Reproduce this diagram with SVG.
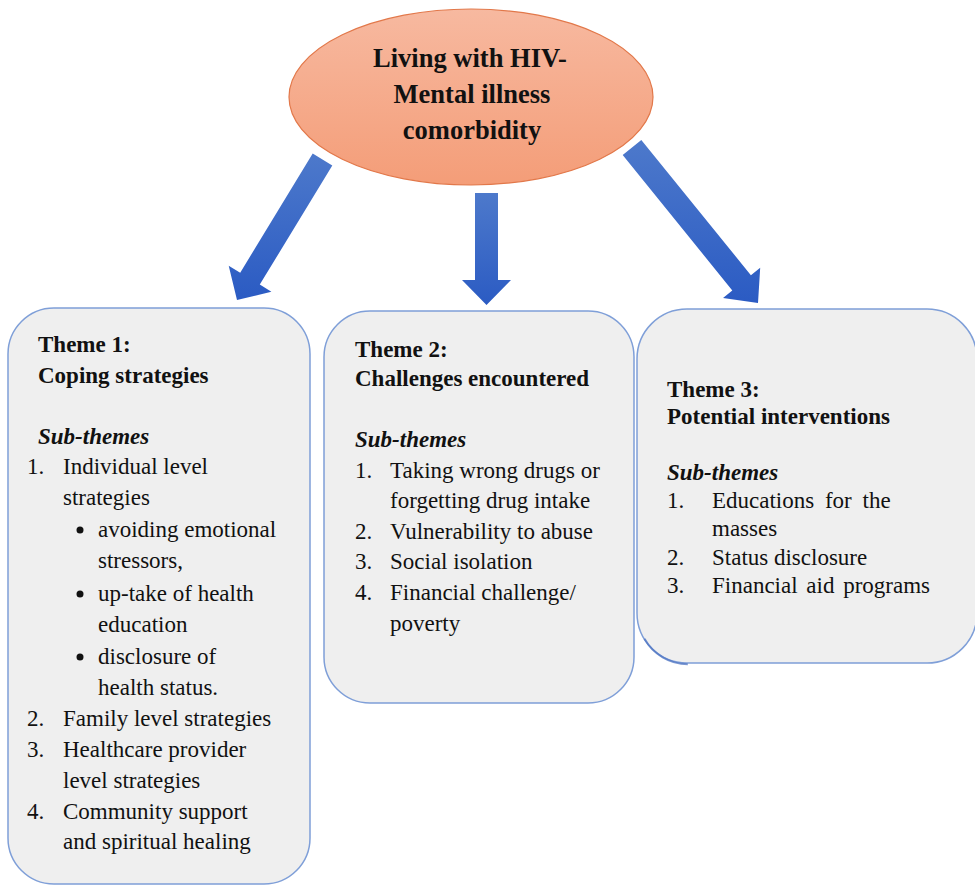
<svg xmlns="http://www.w3.org/2000/svg" width="975" height="886" viewBox="0 0 975 886">
<defs>
<linearGradient id="ellGrad" x1="0" y1="0" x2="0" y2="1">
<stop offset="0" stop-color="#f7b9a0"/>
<stop offset="1" stop-color="#f49d78"/>
</linearGradient>
<linearGradient id="arrGrad" x1="0" y1="0" x2="0" y2="1">
<stop offset="0" stop-color="#4d79cb"/>
<stop offset="1" stop-color="#2b5bc3"/>
</linearGradient>
<style>
.box{fill:#efefef;stroke:#7f9fd8;stroke-width:1.5}
.arrow{fill:url(#arrGrad);stroke:none}
text{font-family:"Liberation Serif","Times New Roman",serif;fill:#111;font-size:23px}
.b{font-weight:bold}
.bi{font-weight:bold;font-style:italic}
.title{font-weight:bold;font-size:26.5px;text-anchor:middle}
.dot{fill:#111}
</style>
</defs>
<rect width="975" height="886" fill="#ffffff"/>

<g id="connectors">
<polygon class="arrow" points="312.7,153.5 332.3,165.5 259.8,284.6 271.4,291.7 237,300 228.7,265.7 240.2,272.7"/>
<polygon class="arrow" points="475,193 498,193 498,280 511,280 486.5,305 462,280 475,280"/>
<polygon class="arrow" points="622.7,155.1 641.3,139.9 750.9,275.2 760.2,267.7 758,303 723,297.9 732.3,290.4"/>
</g>

<g id="center">
<ellipse cx="471" cy="97" rx="182" ry="88" fill="url(#ellGrad)" stroke="#e2784a" stroke-width="1.2"/>
<text class="title" x="470" y="67">Living with HIV-</text>
<text class="title" x="472" y="103">Mental illness</text>
<text class="title" x="472" y="139">comorbidity</text>
</g>

<g id="theme1">
<rect class="box" x="8" y="308" width="302" height="576" rx="46" ry="46"/>
<text class="b" x="38" y="352">Theme 1:</text>
<text class="b" x="38" y="383">Coping strategies</text>
<text class="bi" x="38" y="444">Sub-themes</text>
<text x="27" y="474">1.</text><text x="63" y="474">Individual level</text>
<text x="63" y="505">strategies</text>
<circle class="dot" cx="80" cy="530" r="3.5"/><text x="98" y="537">avoiding emotional</text>
<text x="98" y="568">stressors,</text>
<circle class="dot" cx="80" cy="594" r="3.5"/><text x="98" y="601">up-take of health</text>
<text x="98" y="632">education</text>
<circle class="dot" cx="80" cy="657" r="3.5"/><text x="98" y="664">disclosure of</text>
<text x="98" y="695">health status.</text>
<text x="27" y="726">2.</text><text x="63" y="726">Family level strategies</text>
<text x="27" y="757">3.</text><text x="63" y="757">Healthcare provider</text>
<text x="63" y="788">level strategies</text>
<text x="27" y="819">4.</text><text x="63" y="819">Community support</text>
<text x="63" y="849">and spiritual healing</text>
</g>

<g id="theme2">
<rect class="box" x="324" y="311" width="310" height="392" rx="46" ry="46"/>
<text class="b" x="355" y="357">Theme 2:</text>
<text class="b" x="355" y="386">Challenges encountered</text>
<text class="bi" x="355" y="447">Sub-themes</text>
<text x="355" y="478">1.</text><text x="390" y="478">Taking wrong drugs or</text>
<text x="390" y="508">forgetting drug intake</text>
<text x="355" y="539">2.</text><text x="390" y="539">Vulnerability to abuse</text>
<text x="355" y="569">3.</text><text x="390" y="569">Social isolation</text>
<text x="355" y="600">4.</text><text x="390" y="600">Financial challenge/</text>
<text x="390" y="631">poverty</text>
</g>

<g id="theme3">
<rect class="box" x="637" y="309" width="340" height="354" rx="50" ry="50"/>
<path d="M643.7,638 A50,50 0 0 0 687,663.5" fill="none" stroke="#4f74c2" stroke-width="2" opacity="0.75" transform="translate(0.8,0.8)"/>
<text class="b" x="667" y="397">Theme 3:</text>
<text class="b" x="667" y="424">Potential interventions</text>
<text class="bi" x="667" y="480">Sub-themes</text>
<text x="667" y="508">1.</text><text x="712" y="508" word-spacing="5">Educations for the</text>
<text x="712" y="536">masses</text>
<text x="667" y="565">2.</text><text x="712" y="565">Status disclosure</text>
<text x="667" y="593">3.</text><text x="712" y="593" word-spacing="3">Financial aid programs</text>
</g>
</svg>
